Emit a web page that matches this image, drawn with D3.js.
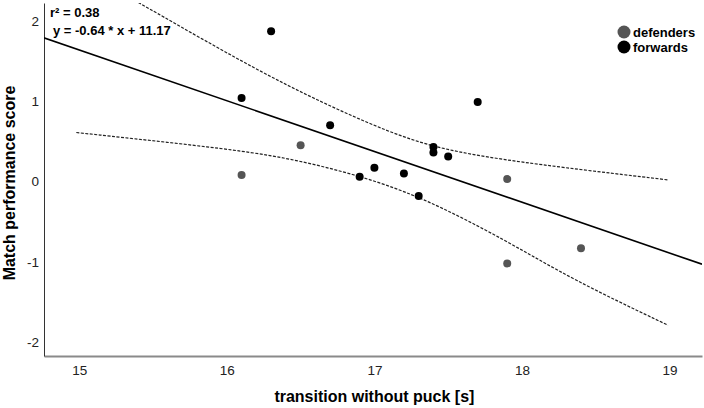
<!DOCTYPE html>
<html>
<head>
<meta charset="utf-8">
<script src="https://cdn.jsdelivr.net/npm/d3@7"></script>
<style>
  body { margin: 0; background: #fff; }
  text { font-family: "Liberation Sans", Arial, sans-serif; }
</style>
</head>
<body>
<script>
// forwards (black dots)
const fwdX = [16.3, 16.1, 16.7, 16.9, 17.0, 17.2, 17.3, 17.4, 17.4, 17.5, 17.7];
const fwdY = [1.87, 1.04, 0.70, 0.06, 0.17, 0.10, -0.18, 0.43, 0.36, 0.31, 0.99];
// defenders (grey dots)
const defX = [16.1, 16.5, 17.9, 17.9, 18.4];
const defY = [0.08, 0.45, 0.03, -1.02, -0.83];

// fit line and 95% band
const fitX = [14.76, 19.22];
const fitY = [1.79, -1.03];
const upperX = [15.40, 15.95, 16.40, 16.85, 17.31, 17.76, 18.25, 18.99];
const upperY = [2.23, 1.65, 1.20, 0.81, 0.46, 0.30, 0.18, 0.02];
const lowerX = [14.98, 15.95, 16.40, 16.85, 17.31, 17.89, 18.34, 18.99];
const lowerY = [0.61, 0.42, 0.30, 0.10, -0.18, -0.73, -1.22, -1.79];

const xTicks = [15, 16, 17, 18, 19];
const yTicks = [-2, -1, 0, 1, 2];
const groups = ["defenders", "forwards"];
const groupColors = ["#555555", "#000000"];

const margin = {top: 3, right: 2, bottom: 52, left: 44};
const width = 704 - margin.left - margin.right;
const height = 408 - margin.top - margin.bottom;

const svg = d3.select("body").append("svg")
   .attr("width", 704)
   .attr("height", 408)
   .append("g")
   .attr("transform", "translate(" + margin.left + "," + margin.top + ")");

const x = d3.scaleLinear()
   .domain([14.761, 19.22])
   .range([0, width]);
const y = d3.scaleLinear()
   .domain([-2.173, 2.223])
   .range([height, 0]);

svg.append("clipPath").attr("id", "plot")
   .append("rect").attr("width", width).attr("height", height);

// axes (no tick marks, SPSS style)
const xAxis = svg.append("g")
   .attr("transform", "translate(0," + height + ")")
   .call(d3.axisBottom(x).tickValues(xTicks).tickFormat(d => String(d)).tickSize(0).tickPadding(9));
xAxis.select(".domain").attr("stroke", "#8a8a8a").attr("stroke-width", 2);
xAxis.selectAll("text").style("font-size", "13.5px").attr("fill", "#222");

const yAxis = svg.append("g")
   .call(d3.axisLeft(y).tickValues(yTicks).tickFormat(d => String(d)).tickSize(0).tickPadding(5));
yAxis.select(".domain").attr("stroke", "#333").attr("stroke-width", 1);
yAxis.selectAll("text").style("font-size", "13.5px").attr("fill", "#222");

const line = d3.line().x(d => x(d[0])).y(d => y(d[1]));
const smooth = d3.line().x(d => x(d[0])).y(d => y(d[1])).curve(d3.curveBasis);

const lines = svg.append("g").attr("clip-path", "url(#plot)");

// confidence band
lines.append("path")
   .attr("d", smooth(d3.zip(upperX, upperY)))
   .attr("fill", "none").attr("stroke", "#222").attr("stroke-width", 1.2)
   .attr("stroke-dasharray", "3,1.5");
lines.append("path")
   .attr("d", smooth(d3.zip(lowerX, lowerY)))
   .attr("fill", "none").attr("stroke", "#222").attr("stroke-width", 1.2)
   .attr("stroke-dasharray", "3,1.5");

// regression line
lines.append("path")
   .attr("d", line(d3.zip(fitX, fitY)))
   .attr("fill", "none").attr("stroke", "#000").attr("stroke-width", 1.6);

// dots
svg.selectAll(".def")
   .data(d3.zip(defX, defY))
   .enter().append("circle")
   .attr("cx", d => x(d[0]))
   .attr("cy", d => y(d[1]))
   .attr("r", 4)
   .style("fill", groupColors[0]);
svg.selectAll(".fwd")
   .data(d3.zip(fwdX, fwdY))
   .enter().append("circle")
   .attr("cx", d => x(d[0]))
   .attr("cy", d => y(d[1]))
   .attr("r", 4)
   .style("fill", groupColors[1]);

// fit annotation
svg.append("text")
   .attr("x", 6).attr("y", 14)
   .style("font-size", "13px").style("font-weight", "bold")
   .text("r² = 0.38");
svg.append("text")
   .attr("x", 9).attr("y", 32)
   .style("font-size", "13px").style("font-weight", "bold")
   .text("y = -0.64 * x + 11.17");

// legend
const legend = svg.append("g")
   .attr("transform", "translate(" + (624 - margin.left) + "," + (32 - margin.top) + ")");
groups.forEach((g, i) => {
  legend.append("circle")
     .attr("cx", 0).attr("cy", i * 15)
     .attr("r", 6.5)
     .style("fill", groupColors[i]);
  legend.append("text")
     .attr("x", 9).attr("y", i * 15 + 5)
     .style("font-size", "13px").style("font-weight", "bold")
     .text(g);
});

// axis titles
svg.append("text")
   .attr("text-anchor", "middle")
   .attr("x", (x(15) + x(19)) / 2)
   .attr("y", height + 46)
   .style("font-size", "16px").style("font-weight", "bold")
   .text("transition without puck [s]");

svg.append("text")
   .attr("text-anchor", "middle")
   .attr("transform", "rotate(-90)")
   .attr("x", -180)
   .attr("y", -29)
   .style("font-size", "16px").style("font-weight", "bold")
   .text("Match performance score");
</script>
</body>
</html>
